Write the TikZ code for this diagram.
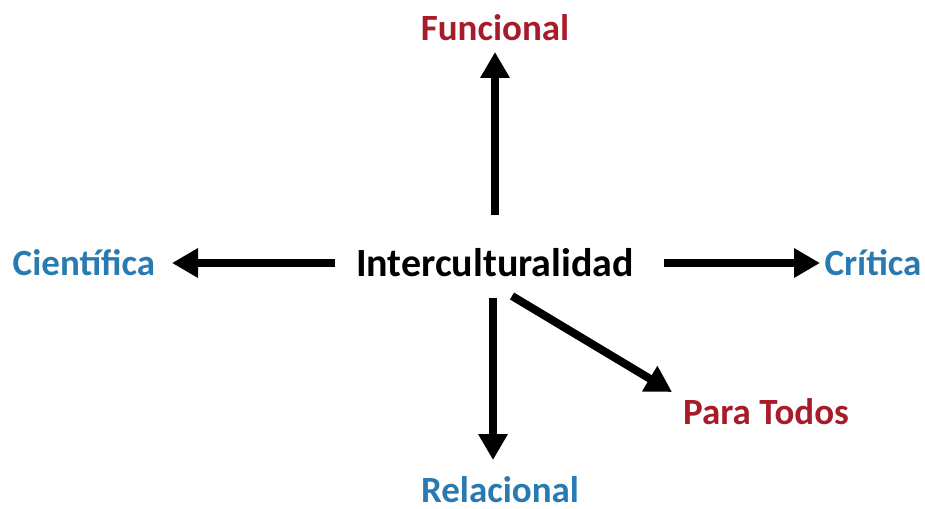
\documentclass[tikz,border=0pt]{standalone}
\usepackage{fontspec}
\setmainfont{Carlito}
\usetikzlibrary{arrows.meta}
\definecolor{rojo}{RGB}{168,28,42}
\definecolor{azul}{RGB}{42,122,178}
\tikzset{flecha/.style={line width=8pt,-{Triangle[length=26pt,width=28pt]}}}
\newcommand{\etiqueta}[5]{\node[inner sep=0pt,text=#4,font=\fontsize{37}{40}\selectfont\bfseries] (#1) at (#2,#3) {#5};}
\newcommand{\enlace}[4]{\draw[flecha,shorten <=#3pt,shorten >=#4pt] (#1) -- (#2);}

\begin{document}
\begin{tikzpicture}[x=1pt,y=-1pt]
    \useasboundingbox (0,0) rectangle (925,508);
    \node[inner sep=0pt,font=\fontsize{40}{44}\selectfont\bfseries] (inter) at (495,263) {Interculturalidad};
    \etiqueta{func}{495}{28}{rojo}{Funcional}
    \etiqueta{cien}{84}{263}{azul}{Científica}
    \etiqueta{crit}{873}{263}{azul}{Crítica}
    \etiqueta{todos}{766}{412}{rojo}{Para Todos}
    \etiqueta{rel}{500}{490}{azul}{Relacional}
    \enlace{inter.center}{func.center}{48}{24}
    \enlace{inter.center}{cien.center}{160}{88}
    \enlace{inter.center}{crit.center}{169}{53}
    \draw[flecha,shorten <=35pt,shorten >=30pt] ([xshift=-2pt]inter.center) -- ([xshift=-2pt]inter.center |- rel.center);
    \draw[flecha] ([shift={(17,33)}]inter.center) -- ([shift={(-94,-20)}]todos.center);
\end{tikzpicture}
\end{document}
